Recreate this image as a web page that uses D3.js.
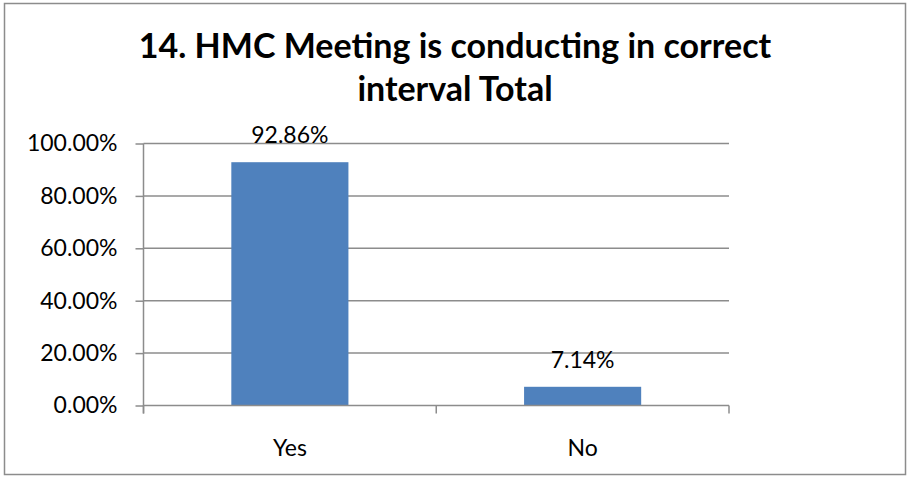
<!DOCTYPE html>
<html lang="en">
<head>
<meta charset="UTF-8"/>
<title>HMC Meeting chart</title>
<style>
    body { margin: 0; background: #fff; }
    text { font-family: Lato, "Open Sans", sans-serif; fill: #000; }
</style>
</head>
<body>
<svg id="chart" width="909" height="477"></svg>
<script src="https://d3js.org/d3.v7.min.js"></script>
<script>
    // data
    var categories = ["Yes", "No"];
    var values = [92.86, 7.14];
    var yTicks = [0, 20, 40, 60, 80, 100];
    var titleLines = ["14. HMC Meeting is conducting in correct", "interval Total"];

    var svg = d3.select("#chart");

    // outer chart border
    svg.append("rect")
        .attr("x", 4.5).attr("y", 3.5)
        .attr("width", 901).attr("height", 471)
        .attr("fill", "#fff")
        .attr("stroke", "#8c8c8c")
        .attr("stroke-width", 1.5);

    var plotLeft = 143.5, plotRight = 729, plotTop = 143.5, plotBottom = 405.5;

    var x = d3.scaleBand()
        .domain(categories)
        .range([plotLeft, plotRight])
        .paddingInner(0.6)
        .paddingOuter(0.3);

    var y = d3.scaleLinear()
        .domain([0, 100])
        .range([plotBottom, plotTop]);

    // title
    svg.append("text")
        .attr("text-anchor", "middle")
        .style("font-weight", "bold")
        .style("font-size", "34px")
        .selectAll("tspan")
        .data(titleLines)
        .enter().append("tspan")
        .attr("x", 455)
        .attr("y", function (d, i) { return 58 + i * 43; })
        .text(function (d) { return d; });

    // gridlines
    svg.append("g")
        .selectAll("line")
        .data(yTicks.filter(function (d) { return d > 0; }))
        .enter().append("line")
        .attr("x1", plotLeft).attr("x2", plotRight)
        .attr("y1", function (d) { return y(d); })
        .attr("y2", function (d) { return y(d); })
        .attr("stroke", "#8c8c8c")
        .attr("stroke-width", 1.5);

    // bars
    svg.append("g")
        .selectAll("rect")
        .data(values)
        .enter().append("rect")
        .attr("x", function (d, i) { return x(categories[i]); })
        .attr("width", x.bandwidth())
        .attr("y", function (d) { return y(d); })
        .attr("height", function (d) { return y(0) - y(d); })
        .attr("fill", "#4f81bd");

    // y axis
    var yAxis = svg.append("g")
        .attr("transform", "translate(" + plotLeft + ",0)")
        .call(d3.axisLeft(y).tickValues(yTicks).tickSize(8).tickPadding(18)
            .tickFormat(function (d) { return d.toFixed(2) + "%"; }));
    yAxis.select(".domain").remove();
    yAxis.selectAll(".tick line").attr("stroke", "#8c8c8c").attr("stroke-width", 1.5);
    yAxis.selectAll(".tick text").style("font-size", "23px").attr("font-family", null);
    yAxis.append("line")
        .attr("x1", 0).attr("x2", 0)
        .attr("y1", plotTop).attr("y2", plotBottom + 8)
        .attr("stroke", "#8c8c8c").attr("stroke-width", 1.5);

    // x axis
    var xg = svg.append("g");
    xg.append("line")
        .attr("x1", plotLeft).attr("x2", plotRight)
        .attr("y1", plotBottom).attr("y2", plotBottom)
        .attr("stroke", "#8c8c8c").attr("stroke-width", 1.5);
    var edges = [plotLeft, (plotLeft + plotRight) / 2, plotRight];
    xg.selectAll(".edge")
        .data(edges)
        .enter().append("line")
        .attr("class", "edge")
        .attr("x1", function (d) { return d; })
        .attr("x2", function (d) { return d; })
        .attr("y1", plotBottom).attr("y2", plotBottom + 8)
        .attr("stroke", "#8c8c8c").attr("stroke-width", 1.5);
    xg.selectAll(".cat")
        .data(categories)
        .enter().append("text")
        .attr("class", "cat")
        .attr("text-anchor", "middle")
        .attr("x", function (d) { return x(d) + x.bandwidth() / 2; })
        .attr("y", 456)
        .style("font-size", "23px")
        .text(function (d) { return d; });

    // data labels
    svg.append("g")
        .selectAll("text")
        .data(values)
        .enter().append("text")
        .attr("text-anchor", "middle")
        .attr("x", function (d, i) { return x(categories[i]) + x.bandwidth() / 2; })
        .attr("y", function (d) { return y(d) - 19; })
        .style("font-size", "23px")
        .text(function (d) { return d.toFixed(2) + "%"; });
</script>
</body>
</html>
